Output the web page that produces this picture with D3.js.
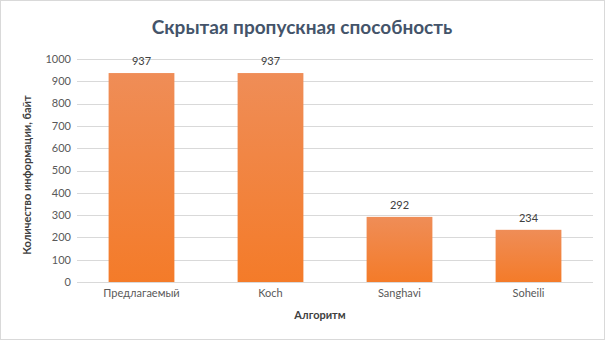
<!DOCTYPE html>
<html><head><meta charset="utf-8">
<script src="https://cdn.jsdelivr.net/npm/d3@7"></script>
<style>
html,body{margin:0;padding:0;background:#fff;}
svg{display:block;font-family:Lato,"Open Sans",sans-serif;}
</style></head>
<body>
<svg id="chart" width="605" height="340"></svg>
<script>
const categories = ["Предлагаемый", "Koch", "Sanghavi", "Soheili"];
const values = [937, 937, 292, 234];
const yTicks = [0, 100, 200, 300, 400, 500, 600, 700, 800, 900, 1000];

const svg = d3.select("#chart");
const W = 605, H = 340;
const m = {left: 77, right: 12, top: 59, bottom: 58};

svg.append("rect").attr("x", 0.5).attr("y", 0.5).attr("width", W - 1).attr("height", H - 1)
  .attr("fill", "#fff").attr("stroke", "#D9D9D9");

const defs = svg.append("defs");
const grad = defs.append("linearGradient").attr("id", "barGrad")
  .attr("x1", 0).attr("y1", 0).attr("x2", 0).attr("y2", 1);
grad.append("stop").attr("offset", "0%").attr("stop-color", "#EF8D57");
grad.append("stop").attr("offset", "100%").attr("stop-color", "#F47B29");

const x = d3.scaleBand().domain(categories).range([m.left, W - m.right]).paddingInner(0.49).paddingOuter(0.245);
const y = d3.scaleLinear().domain([0, 1000]).range([H - m.bottom, m.top]);

// gridlines
svg.append("g").selectAll("line").data(yTicks).join("line")
  .attr("x1", m.left).attr("x2", W - m.right)
  .attr("y1", d => Math.round(y(d)) + 0.5).attr("y2", d => Math.round(y(d)) + 0.5)
  .attr("stroke", "#D9D9D9").attr("stroke-width", 1);

// y tick labels
svg.append("g").selectAll("text").data(yTicks).join("text")
  .attr("x", m.left - 6).attr("y", d => y(d)).attr("dy", "0.35em")
  .attr("text-anchor", "end").attr("font-size", 11).attr("fill", "#595959")
  .text(d => d);

// bars
svg.append("g").selectAll("rect").data(values).join("rect")
  .attr("x", (d, i) => x(categories[i])).attr("width", x.bandwidth())
  .attr("y", d => y(d)).attr("height", d => y(0) - y(d))
  .attr("fill", "url(#barGrad)");

// value labels
svg.append("g").selectAll("text").data(values).join("text")
  .attr("x", (d, i) => x(categories[i]) + x.bandwidth() / 2).attr("y", d => y(d) - 8)
  .attr("text-anchor", "middle").attr("font-size", 11).attr("fill", "#404040")
  .text(d => d);

// x tick labels
svg.append("g").selectAll("text").data(categories).join("text")
  .attr("x", d => x(d) + x.bandwidth() / 2).attr("y", H - m.bottom + 15)
  .attr("text-anchor", "middle").attr("font-size", 11).attr("fill", "#595959")
  .text(d => d);

// title
svg.append("text").attr("x", 302).attr("y", 34).attr("text-anchor", "middle")
  .attr("font-size", 19).attr("font-weight", "bold").attr("fill", "#44546A")
  .text("Скрытая пропускная способность");

// axis titles
svg.append("text").attr("x", 320).attr("y", 319).attr("text-anchor", "middle")
  .attr("font-size", 11).attr("font-weight", "bold").attr("fill", "#404040")
  .text("Алгоритм");
svg.append("text").attr("transform", "translate(31,175) rotate(-90)").attr("text-anchor", "middle")
  .attr("font-size", 11).attr("font-weight", "bold").attr("fill", "#404040")
  .text("Количество информации, байт");
</script>
</body></html>
